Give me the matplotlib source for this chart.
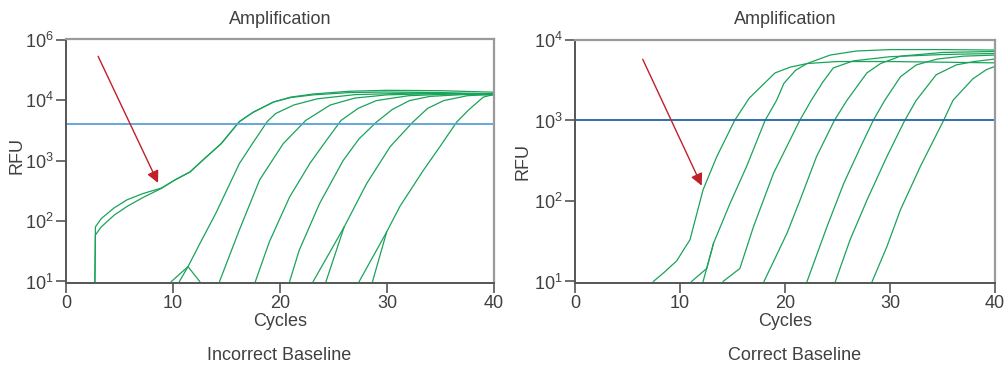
import numpy as np
import matplotlib
matplotlib.use("Agg")
import matplotlib.pyplot as plt
from matplotlib.ticker import NullLocator, FixedLocator, FixedFormatter

plt.rcParams['font.family'] = ['Liberation Sans', 'DejaVu Sans']
plt.rcParams['mathtext.fontset'] = 'custom'
plt.rcParams['mathtext.rm'] = 'Liberation Sans'
plt.rcParams['mathtext.it'] = 'Liberation Sans'

# ---- Incorrect baseline (left) ----
left_curves = [
    ([2.7, 2.75, 3.3, 4.5, 5.7, 7.2, 8.9, 10.2, 11.6, 13.0, 14.5, 16.2, 17.5, 19.4, 21.0, 23.1, 26.5, 30, 35, 40],
     [10, 80, 110, 165, 224, 285, 350, 480, 650, 1100, 1900, 4400, 6300, 9300, 11200, 12600, 14000, 14500, 14300, 13500]),
    ([2.7, 2.75, 3.3, 4.5, 5.7, 7.2, 8.9, 10.2, 11.6, 13.0, 14.5, 16.2, 17.5, 19.4, 21.0, 23.1, 26.5, 30, 35, 40],
     [10, 59, 80, 125, 174, 245, 345, 480, 650, 1100, 1900, 4400, 6300, 9300, 11000, 12200, 13300, 13600, 13300, 12700]),
    ([10.6, 11.4, 12.5, 14.0, 16.2, 17.5, 18.8, 19.6, 21.3, 23.5, 27, 32, 40],
     [10, 17.6, 42, 134, 890, 2000, 4400, 6000, 8300, 10500, 12300, 13000, 12600]),
    ([9.85, 11.4, 12.5], [10, 17.6, 10]),
    ([14.35, 16.2, 18.1, 20.3, 22.4, 24.7, 27, 30, 35, 40],
     [10, 71, 480, 1900, 4600, 8300, 10800, 12200, 12800, 12300]),
    ([17.7, 19.0, 20.9, 22.8, 24.2, 25.7, 27.3, 29, 32, 36, 40],
     [10, 45, 250, 900, 2000, 4600, 7300, 9800, 11800, 12600, 12200]),
    ([20.9, 21.8, 23.7, 25.9, 27.4, 29.0, 30.5, 32.1, 34, 37, 40],
     [10, 33, 195, 1000, 2300, 4300, 7000, 9800, 11500, 12300, 12400]),
    ([23.1, 26.0, 28.1, 30.3, 32.4, 33.8, 35.3, 37.5, 40],
     [10, 80, 417, 1700, 4300, 7300, 9800, 11800, 12500]),
    ([24.3, 26.0], [10, 80]),
    ([27.4, 29.97, 31.2, 33.4, 34.95, 36.5, 37.6, 39.0, 40],
     [10, 66, 174, 690, 1700, 4300, 6800, 11200, 12400]),
    ([28.65, 29.97], [10, 66]),
]
left_threshold = 4000
# the reference labels its top tick 10^6 although it sits one decade above 10^4
left_ticks = [1e1, 1e2, 1e3, 1e4, 1e5]
left_ticklabels = ['$10^1$', '$10^2$', '$10^3$', '$10^4$', '$10^6$']

# ---- Correct baseline (right) ----
right_curves = [
    ([7.46, 8.5, 9.68, 10.95, 12.2, 13.5, 15.2, 16.6, 19.05, 20.5, 22.1, 24.3, 26.8, 30, 35, 40],
     [10, 13, 18, 33, 138, 355, 1000, 1900, 3900, 4600, 5100, 6500, 7300, 7600, 7600, 7500]),
    ([11.1, 12.55, 13.2, 14.76, 16.35, 18.1, 19.2, 19.9, 21.0, 22.1, 25, 30, 35, 40],
     [10, 14.5, 30, 93, 270, 1000, 1780, 2900, 4200, 5100, 5400, 5400, 5300, 5200]),
    ([12.2, 13.2], [10, 30]),
    ([14.1, 15.7, 17.0, 18.9, 21.4, 22.5, 23.6, 24.6, 26.5, 30, 35, 40],
     [10, 14.5, 48, 220, 1000, 1780, 3000, 4500, 5500, 6200, 6600, 6800]),
    ([18.0, 20.2, 21.4, 23.0, 24.7, 25.9, 27.8, 29.1, 31, 35, 40],
     [10, 40, 100, 355, 1000, 1780, 3900, 5100, 6300, 7000, 7200]),
    ([22.1, 24.0, 25.6, 27.2, 28.4, 29.5, 31.0, 32.5, 34.5, 37, 40],
     [10, 48, 166, 470, 1000, 1780, 3500, 4900, 5800, 6300, 6500]),
    ([24.8, 26.2, 27.8, 29.7, 31.4, 32.5, 34.4, 36.3, 38, 40],
     [10, 33, 102, 355, 1000, 1780, 3700, 4900, 5400, 5800]),
    ([28.3, 29.7, 31.0, 32.9, 35.1, 36.0, 37.9, 39.2, 40],
     [10, 27, 78, 270, 1000, 1780, 3300, 4300, 4700]),
]
right_threshold = 1000
right_ticks = [1e1, 1e2, 1e3, 1e4]
right_ticklabels = ['$10^1$', '$10^2$', '$10^3$', '$10^4$']

x_ticks = [0, 10, 20, 30, 40]

GREEN = '#1aa35a'
TXT = '#404040'

fig = plt.figure(figsize=(10.05, 3.65), dpi=100)
W, H = 1005.0, 365.0


def setup(ax, yticks, ylabels, ylim):
    ax.set_yscale('log')
    ax.set_xlim(0, 40)
    ax.set_ylim(*ylim)
    ax.xaxis.set_major_locator(FixedLocator(x_ticks))
    ax.yaxis.set_major_locator(FixedLocator(yticks))
    ax.yaxis.set_major_formatter(FixedFormatter(ylabels))
    ax.yaxis.set_minor_locator(NullLocator())
    ax.tick_params(axis='both', direction='out', length=7, width=1.2,
                   color='#555555', labelsize=13, labelcolor=TXT, pad=2)
    for s in ['left', 'bottom']:
        ax.spines[s].set_color('#555555')
        ax.spines[s].set_linewidth(1.4)
    for s in ['top', 'right']:
        ax.spines[s].set_color('#9a9a9a')
        ax.spines[s].set_linewidth(1.6)


# left panel
ax1 = fig.add_axes([66 / W, 82 / H, 428 / W, 244 / H])
setup(ax1, left_ticks, left_ticklabels, (10 ** 0.975, 10 ** 5.01))
for xs, ys in left_curves:
    ax1.plot(xs, ys, color=GREEN, lw=0.9)
ax1.axhline(left_threshold, color='#5aa0d8', lw=1.3)
ax1.annotate('', xy=(8.6, 427), xytext=(3.0, 53000),
             arrowprops=dict(arrowstyle='-|>', color='#c0202a', lw=1.0,
                             mutation_scale=18, shrinkA=0, shrinkB=0))

# right panel
ax2 = fig.add_axes([575 / W, 82 / H, 420 / W, 243 / H])
setup(ax2, right_ticks, right_ticklabels, (10 ** 0.981, 1e4))
for xs, ys in right_curves:
    ax2.plot(xs, ys, color=GREEN, lw=0.9)
ax2.axhline(right_threshold, color='#2166a6', lw=1.3)
ax2.annotate('', xy=(12.07, 155), xytext=(6.45, 5760),
             arrowprops=dict(arrowstyle='-|>', color='#c0202a', lw=1.0,
                             mutation_scale=18, shrinkA=0, shrinkB=0))

# texts
panels = [(280, 279, 'Incorrect Baseline', 17, 156), (785, 795, 'Correct Baseline', 523, 162)]
for cx, sx, sub, rfu_x, rfu_y in panels:
    fig.text(cx / W, 1 - 20 / H, 'Amplification', ha='center', va='center', fontsize=13, color=TXT)
    fig.text(cx / W, 1 - 322 / H, 'Cycles', ha='center', va='center', fontsize=13, color=TXT)
    fig.text(sx / W, 1 - 356 / H, sub, ha='center', va='center', fontsize=13, color=TXT)
    fig.text(rfu_x / W, 1 - rfu_y / H, 'RFU', ha='center', va='center',
             rotation=90, fontsize=13, color=TXT)

fig.savefig('out.png', dpi=100)
